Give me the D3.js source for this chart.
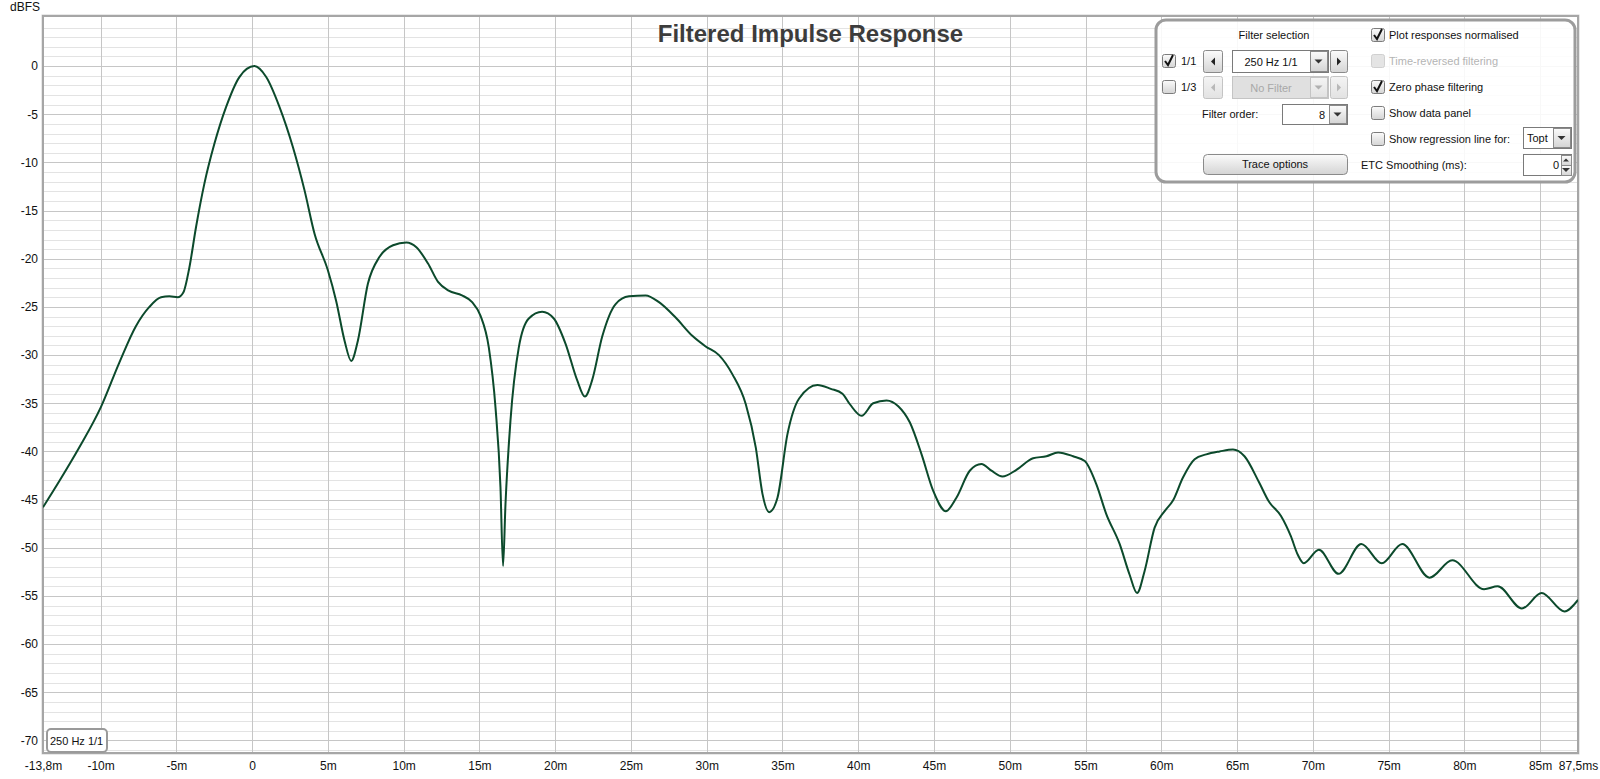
<!DOCTYPE html>
<html>
<head>
<meta charset="utf-8">
<script src="https://cdn.jsdelivr.net/npm/d3@7"></script>
<style>
  body { margin: 0; background: #fff; }
  svg { display: block; font-family: "Liberation Sans", Arial, sans-serif; }
</style>
</head>
<body>
<div id="chart"></div>
<script>
// time (ms) and level (dBFS)
const times = [
  -13.8, -12.73, -11.41, -9.98, -8.77, -7.67, -6.78, -6.01, -5.46, -4.91, -4.54, -4.14, -3.7, -3.15,
  -2.49, -1.72, -0.84, 0.15, 0.93, 1.81, 2.69, 3.46, 4.12, 5.0, 5.55, 6.1, 6.54, 6.98, 7.64, 8.41,
  9.3, 10.18, 10.84, 11.61, 12.27, 12.97, 13.85, 14.52, 15.07, 15.62, 16.06, 16.39, 16.56, 16.72,
  17.05, 17.6, 18.26, 19.14, 19.91, 20.68, 21.45, 21.96, 22.44, 23.1, 23.99, 24.87, 25.97, 26.85,
  27.95, 29.05, 29.93, 30.81, 31.7, 32.58, 33.24, 33.68, 34.12, 34.67, 35.33, 36.1, 37.31, 38.19,
  38.96, 39.45, 40.22, 40.99, 41.87, 42.64, 43.41, 44.18, 44.95, 45.78, 46.48, 47.36, 48.13, 48.79,
  49.52, 50.44, 51.54, 52.42, 53.19, 54.18, 54.95, 55.71, 56.37, 57.25, 57.91, 58.4, 58.9, 59.56,
  60.22, 60.77, 61.43, 62.2, 62.97, 63.85, 64.73, 65.49, 66.45, 67.1, 67.9, 68.55, 69.0, 69.4,
  70.4, 71.7, 73.2, 74.55, 75.9, 77.7, 79.2, 81.3, 82.2, 83.8, 85.1, 86.6, 87.5
];
const levels = [
  -45.8, -43.1, -39.6, -35.4, -30.8, -27.0, -25.0, -24.0, -23.9, -24.0, -23.5, -20.9, -16.7, -12.2,
  -8.07, -4.26, -1.14, 0, -1.14, -4.26, -8.4, -12.9, -17.4, -21.2, -24.4, -28.5, -30.6, -28.5, -22.6, -19.8,
  -18.6, -18.3, -18.8, -20.5, -22.4, -23.3, -23.8, -24.5, -25.9, -29.2, -35.4, -43.7, -51.9, -45.5,
  -36.8, -29.2, -26.2, -25.5, -26.2, -28.8, -32.6, -34.3, -32.6, -28.1, -24.7, -23.9, -23.8, -24.5,
  -26.1, -28.0, -29.1, -30.0, -32.0, -35.1, -39.6, -44.4, -46.3, -44.8, -38.2, -34.5, -33.1, -33.5,
  -34.0, -35.1, -36.3, -35.0, -34.7, -35.3, -37.0, -40.3, -44.1, -46.2, -44.8, -42.0, -41.3, -42.0,
  -42.6, -41.9, -40.7, -40.5, -40.1, -40.5, -41.0, -43.4, -46.5, -49.6, -52.8, -54.7, -52.4, -47.9,
  -46.2, -45.1, -42.7, -40.8, -40.3, -40.0, -39.8, -40.5, -43.2, -45.2, -46.7, -48.8, -50.7, -51.6,
  -50.2, -52.7, -49.6, -51.6, -49.6, -53.1, -51.3, -54.3, -54.0, -56.3, -54.7, -56.6, -55.4
];

const xTicks = [-10, -5, 0, 5, 10, 15, 20, 25, 30, 35, 40, 45, 50, 55, 60, 65, 70, 75, 80, 85];
const yTicks = [0, -5, -10, -15, -20, -25, -30, -35, -40, -45, -50, -55, -60, -65, -70];
const xDomain = [-13.8, 87.5];
const yDomain = [5.2, -71.3];

const title = "Filtered Impulse Response";
const traceLabel = "250 Hz 1/1";

/* svg setup */
const width = 1600, height = 779;
const plot = { left: 43, right: 1578, top: 16, bottom: 753 };

const svg = d3.select("#chart")
  .append("svg")
  .attr("width", width)
  .attr("height", height);

const x = d3.scaleLinear().domain(xDomain).range([plot.left, plot.right]);
const y = d3.scaleLinear().domain(yDomain).range([plot.top, plot.bottom]);

const defs = svg.append("defs");
const btnGrad = defs.append("linearGradient").attr("id", "btn").attr("x1", 0).attr("y1", 0).attr("x2", 0).attr("y2", 1);
btnGrad.append("stop").attr("offset", "0%").attr("stop-color", "#fbfbfb");
btnGrad.append("stop").attr("offset", "100%").attr("stop-color", "#d4d4d4");
const offGrad = defs.append("linearGradient").attr("id", "btnoff").attr("x1", 0).attr("y1", 0).attr("x2", 0).attr("y2", 1);
offGrad.append("stop").attr("offset", "0%").attr("stop-color", "#f4f4f4");
offGrad.append("stop").attr("offset", "100%").attr("stop-color", "#e2e2e2");
defs.append("clipPath").attr("id", "plotclip")
  .append("rect")
  .attr("x", plot.left).attr("y", plot.top)
  .attr("width", plot.right - plot.left).attr("height", plot.bottom - plot.top);

/*
 * Grid
 */
const grid = svg.append("g");
const minorY = d3.range(Math.ceil(yDomain[1]), Math.floor(yDomain[0]) + 1).filter(v => v % 5 !== 0);

grid.selectAll(".minor")
  .data(minorY)
  .join("line")
  .attr("x1", plot.left).attr("x2", plot.right)
  .attr("y1", d => Math.round(y(d)) + 0.5).attr("y2", d => Math.round(y(d)) + 0.5)
  .attr("stroke", "#e3e3e3");

grid.selectAll(".majorY")
  .data(yTicks)
  .join("line")
  .attr("x1", plot.left).attr("x2", plot.right)
  .attr("y1", d => Math.round(y(d)) + 0.5).attr("y2", d => Math.round(y(d)) + 0.5)
  .attr("stroke", "#c6c6c6");

grid.selectAll(".majorX")
  .data(xTicks)
  .join("line")
  .attr("y1", plot.top).attr("y2", plot.bottom)
  .attr("x1", d => Math.round(x(d)) + 0.5).attr("x2", d => Math.round(x(d)) + 0.5)
  .attr("stroke", "#c6c6c6");

// frame
svg.append("rect")
  .attr("x", plot.left - 1).attr("y", plot.top - 1)
  .attr("width", plot.right - plot.left + 2).attr("height", plot.bottom - plot.top + 2)
  .attr("fill", "none").attr("stroke", "#d2d2d2").attr("stroke-width", 1);
svg.append("rect")
  .attr("x", plot.left).attr("y", plot.top)
  .attr("width", plot.right - plot.left).attr("height", plot.bottom - plot.top)
  .attr("fill", "none").attr("stroke", "#a6a6a6").attr("stroke-width", 2);

/*
 * Axes
 */
const yAxis = svg.append("g")
  .attr("transform", `translate(${plot.left - 5},0)`)
  .call(d3.axisLeft(y).tickValues(yTicks).tickSize(0).tickPadding(0).tickFormat(d => d === 0 ? "0" : String(d)));
yAxis.select(".domain").remove();
yAxis.selectAll("text").attr("font-size", 12).attr("fill", "#111").attr("font-family", "Liberation Sans, Arial, sans-serif");

const xLabel = d => d === 0 ? "0" : d + "m";
const xAxis = svg.append("g")
  .attr("transform", `translate(0,${plot.bottom})`)
  .call(d3.axisBottom(x).tickValues([xDomain[0], ...xTicks, xDomain[1]]).tickSize(0).tickPadding(8)
    .tickFormat(d => d === xDomain[0] ? "-13,8m" : d === xDomain[1] ? "87,5ms" : xLabel(d)));
xAxis.select(".domain").remove();
xAxis.selectAll("text").attr("font-size", 12).attr("fill", "#111").attr("font-family", "Liberation Sans, Arial, sans-serif");

svg.append("text")
  .attr("x", 10).attr("y", 11)
  .attr("font-size", 12).attr("fill", "#111")
  .text("dBFS");

/*
 * Trace
 */
const line = d3.line()
  .x((d, i) => x(times[i]))
  .y(d => y(d))
  .curve(d3.curveMonotoneX);

svg.append("path")
  .datum(levels)
  .attr("clip-path", "url(#plotclip)")
  .attr("d", line)
  .attr("fill", "none")
  .attr("stroke", "#0c4a2c")
  .attr("stroke-width", 2);

svg.append("text")
  .attr("x", (plot.left + plot.right) / 2).attr("y", 42)
  .attr("text-anchor", "middle")
  .attr("font-size", 24).attr("font-weight", "bold")
  .attr("fill", "#3c3c3c")
  .text(title);

// trace label box
svg.append("rect")
  .attr("x", 47).attr("y", 729).attr("width", 60).attr("height", 23).attr("rx", 4)
  .attr("fill", "#fff").attr("stroke", "#9a9a9a").attr("stroke-width", 2);
svg.append("text")
  .attr("x", 50).attr("y", 745)
  .attr("font-size", 11).attr("fill", "#111")
  .text(traceLabel);

/*
 * Control panel
 */
const panel = svg.append("g").attr("font-size", 11).attr("fill", "#111");

panel.append("rect")
  .attr("x", 1156).attr("y", 20).attr("width", 419).attr("height", 162).attr("rx", 10)
  .attr("fill", "#fff").attr("fill-opacity", 0.88)
  .attr("stroke", "#9c9c9c").attr("stroke-width", 3);

function checkbox(cx, cy, checked, enabled) {
  panel.append("rect")
    .attr("x", cx + 0.5).attr("y", cy - 6.5).attr("width", 13).attr("height", 13).attr("rx", 2)
    .attr("fill", enabled ? "url(#btn)" : "#e4e4e4")
    .attr("stroke", enabled ? "#7c7c7c" : "#d0d0d0");
  if (checked) {
    panel.append("path")
      .attr("d", `M${cx + 3},${cy} L${cx + 6},${cy + 4} L${cx + 11},${cy - 6}`)
      .attr("fill", "none").attr("stroke", "#111").attr("stroke-width", 2);
  }
}

function button(bx, by, w, h, enabled) {
  return panel.append("rect")
    .attr("x", bx + 0.5).attr("y", by + 0.5).attr("width", w).attr("height", h).attr("rx", 2)
    .attr("fill", enabled ? "url(#btn)" : "url(#btnoff)")
    .attr("stroke", enabled ? "#8a8a8a" : "#c4c4c4");
}

function arrow(cx, cy, dir, color) {
  const p = dir === "left" ? `M${cx + 2},${cy - 4} L${cx - 2},${cy} L${cx + 2},${cy + 4}Z`
    : dir === "right" ? `M${cx - 2},${cy - 4} L${cx + 2},${cy} L${cx - 2},${cy + 4}Z`
    : dir === "down" ? `M${cx - 4},${cy - 2} L${cx + 4},${cy - 2} L${cx},${cy + 2}Z`
    : `M${cx - 3},${cy + 1.5} L${cx + 3},${cy + 1.5} L${cx},${cy - 1.5}Z`;
  panel.append("path").attr("d", p).attr("fill", color);
}

function dropdown(dx, dy, w, h, label, align, enabled) {
  panel.append("rect")
    .attr("x", dx + 0.5).attr("y", dy + 0.5).attr("width", w).attr("height", h)
    .attr("fill", enabled ? "#fff" : "#e0e0e0").attr("stroke", enabled ? "#7a7a7a" : "#c4c4c4");
  button(dx + w - 18, dy + 1, 17, h - 2, enabled).attr("rx", 0);
  arrow(dx + w - 9.5, dy + h / 2 + 0.5, "down", enabled ? "#333" : "#b0b0b0");
  const t = panel.append("text")
    .attr("y", dy + h / 2 + 4.5)
    .attr("fill", enabled ? "#111" : "#a8a8a8")
    .text(label);
  if (align === "middle") t.attr("x", dx + (w - 18) / 2).attr("text-anchor", "middle");
  else if (align === "end") t.attr("x", dx + w - 22).attr("text-anchor", "end");
  else t.attr("x", dx + 4);
}

panel.append("text").attr("x", 1274).attr("y", 39).attr("text-anchor", "middle").text("Filter selection");

// octave row
checkbox(1162, 61, true, true);
panel.append("text").attr("x", 1181).attr("y", 65).text("1/1");
button(1203, 50, 19, 22, true);
arrow(1213, 61.5, "left", "#222");
dropdown(1232, 50, 96, 22, "250 Hz 1/1", "middle", true);
button(1330, 50, 17, 22, true);
arrow(1339, 61.5, "right", "#222");

// third octave row
checkbox(1162, 87, false, true);
panel.append("text").attr("x", 1181).attr("y", 91).text("1/3");
button(1203, 76, 19, 22, false);
arrow(1213, 87.5, "left", "#b8b8b8");
dropdown(1232, 76, 96, 22, "No Filter", "middle", false);
button(1330, 76, 17, 22, false);
arrow(1339, 87.5, "right", "#b8b8b8");

panel.append("text").attr("x", 1202).attr("y", 118).text("Filter order:");
dropdown(1282, 104, 65, 20, "8", "end", true);

button(1203, 154, 144, 20, true).attr("rx", 4);
panel.append("text").attr("x", 1275).attr("y", 168).attr("text-anchor", "middle").text("Trace options");

// right column
const options = [
  { label: "Plot responses normalised", y: 35, checked: true, enabled: true },
  { label: "Time-reversed filtering", y: 61, checked: false, enabled: false },
  { label: "Zero phase filtering", y: 87, checked: true, enabled: true },
  { label: "Show data panel", y: 113, checked: false, enabled: true },
  { label: "Show regression line for:", y: 139, checked: false, enabled: true }
];
options.forEach(o => {
  checkbox(1371, o.y, o.checked, o.enabled);
  panel.append("text")
    .attr("x", 1389).attr("y", o.y + 4)
    .attr("fill", o.enabled ? "#111" : "#b4b4b4")
    .text(o.label);
});
dropdown(1523, 127, 48, 21, "Topt", "start", true);

panel.append("text").attr("x", 1361).attr("y", 169).text("ETC Smoothing (ms):");
panel.append("rect")
  .attr("x", 1523.5).attr("y", 154.5).attr("width", 48).attr("height", 21)
  .attr("fill", "#fff").attr("stroke", "#7a7a7a");
panel.append("text").attr("x", 1559).attr("y", 169).attr("text-anchor", "end").text("0");
button(1561, 155, 10, 10, true).attr("rx", 0);
button(1561, 165, 10, 10, true).attr("rx", 0);
arrow(1566, 160, "up", "#333");
arrow(1566, 170, "down", "#333");
</script>
</body>
</html>
